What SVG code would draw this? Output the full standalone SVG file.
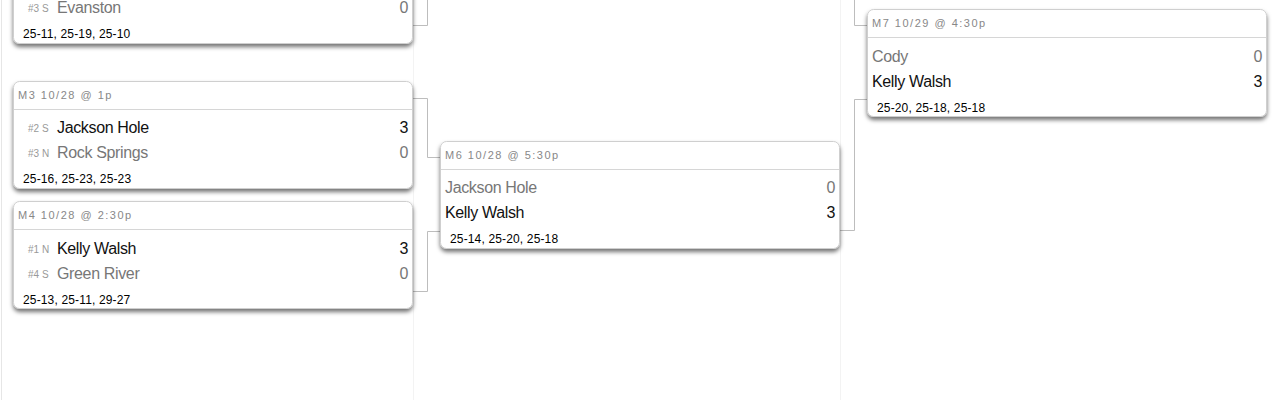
<svg xmlns="http://www.w3.org/2000/svg" width="1280" height="400" viewBox="0 0 1280 400">
<defs>
<filter id="sh" x="-5%" y="-10%" width="110%" height="130%">
<feDropShadow dx="0" dy="3" stdDeviation="2.2" flood-color="#000" flood-opacity="0.55"/>
</filter>
</defs>
<style>
text{font-family:"Liberation Sans",Arial,sans-serif}
.card{fill:#fff;stroke:#cfcfcf;stroke-width:1}
.sep{stroke:#d6d6d6;stroke-width:1}
.col{stroke:#f3f3f3;stroke-width:1;fill:none}
.col0{stroke:#e6e6e6;stroke-width:1;fill:none}
.con{stroke:#bdbdbd;stroke-width:1;fill:none}
.hdr{font-size:11px;fill:#888;letter-spacing:1.5px}
.seed{font-size:10px;fill:#999}
.win{font-size:16px;fill:#111;letter-spacing:-0.35px}
.lose{font-size:16px;fill:#777;letter-spacing:-0.35px}
.r{text-anchor:end}
.sets{font-size:12px;fill:#000;letter-spacing:0.15px}
</style>
<rect width="1280" height="400" fill="#fff"/>
<g id="columns">
<line class="col0" x1="1.5" y1="0" x2="1.5" y2="400"/>
<line class="col" x1="413.5" y1="0" x2="413.5" y2="400"/>
<line class="col" x1="840.5" y1="0" x2="840.5" y2="400"/>
</g>
<g id="connectors">
<path class="con" d="M413 25.5H427.5V0"/>
<path class="con" d="M413 98.5H427.5V157.5H440"/>
<path class="con" d="M413 291.5H427.5V231.5H440"/>
<path class="con" d="M854.5 0V25.5H867"/>
<path class="con" d="M840 230.5H854.5V99.5H867"/>
</g>
<g id="M2">
<rect class="card" filter="url(#sh)" x="13.5" y="-63.5" width="399" height="107" rx="6"/>
<text class="seed" x="28" y="12">#3 S</text>
<text class="lose" x="57" y="13">Evanston</text>
<text class="lose r" x="408" y="13">0</text>
<text class="sets" x="23" y="38">25-11, 25-19, 25-10</text>
</g>
<g id="M3">
<rect class="card" filter="url(#sh)" x="13.5" y="81.5" width="399" height="107" rx="6"/>
<line class="sep" x1="14" y1="109.5" x2="412" y2="109.5"/>
<text class="hdr" x="18" y="99">M3 10/28 @ 1p</text>
<text class="seed" x="28" y="132">#2 S</text>
<text class="win" x="57" y="133">Jackson Hole</text>
<text class="win r" x="408" y="133">3</text>
<text class="seed" x="28" y="157">#3 N</text>
<text class="lose" x="57" y="158">Rock Springs</text>
<text class="lose r" x="408" y="158">0</text>
<text class="sets" x="23" y="183">25-16, 25-23, 25-23</text>
</g>
<g id="M4">
<rect class="card" filter="url(#sh)" x="13.5" y="201.5" width="399" height="107" rx="6"/>
<line class="sep" x1="14" y1="229.5" x2="412" y2="229.5"/>
<text class="hdr" x="18" y="219">M4 10/28 @ 2:30p</text>
<text class="seed" x="28" y="253">#1 N</text>
<text class="win" x="57" y="254">Kelly Walsh</text>
<text class="win r" x="408" y="254">3</text>
<text class="seed" x="28" y="278">#4 S</text>
<text class="lose" x="57" y="279">Green River</text>
<text class="lose r" x="408" y="279">0</text>
<text class="sets" x="23" y="304">25-13, 25-11, 29-27</text>
</g>
<g id="M6">
<rect class="card" filter="url(#sh)" x="440.5" y="141.5" width="399" height="107" rx="6"/>
<line class="sep" x1="441" y1="169.5" x2="839" y2="169.5"/>
<text class="hdr" x="445" y="159">M6 10/28 @ 5:30p</text>
<text class="lose" x="445" y="193">Jackson Hole</text>
<text class="lose r" x="835" y="193">0</text>
<text class="win" x="445" y="218">Kelly Walsh</text>
<text class="win r" x="835" y="218">3</text>
<text class="sets" x="450" y="243">25-14, 25-20, 25-18</text>
</g>
<g id="M7">
<rect class="card" filter="url(#sh)" x="867.5" y="9.5" width="399" height="107" rx="6"/>
<line class="sep" x1="868" y1="37.5" x2="1266" y2="37.5"/>
<text class="hdr" x="872" y="27">M7 10/29 @ 4:30p</text>
<text class="lose" x="872" y="62">Cody</text>
<text class="lose r" x="1262" y="62">0</text>
<text class="win" x="872" y="87">Kelly Walsh</text>
<text class="win r" x="1262" y="87">3</text>
<text class="sets" x="877" y="112">25-20, 25-18, 25-18</text>
</g>
</svg>
